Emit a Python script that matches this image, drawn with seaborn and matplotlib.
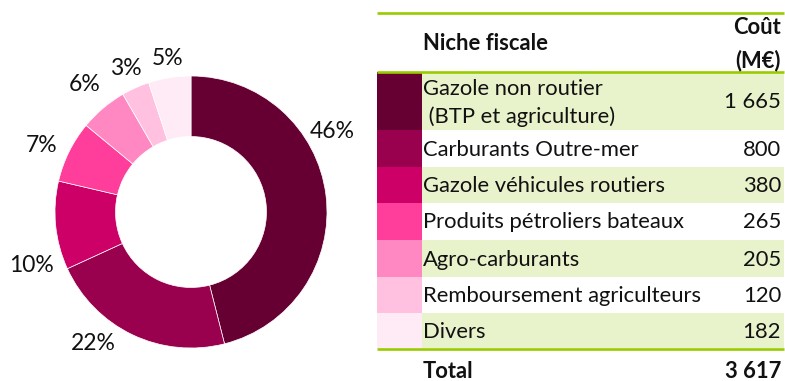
import matplotlib
matplotlib.use("Agg")
import matplotlib.pyplot as plt
from matplotlib.patches import Rectangle
import numpy as np
import seaborn as sns

# Dépenses fiscales sur les carburants (M€)
niches = [
    "Gazole non routier\n (BTP et agriculture)",
    "Carburants Outre-mer",
    "Gazole véhicules routiers",
    "Produits pétroliers bateaux",
    "Agro-carburants",
    "Remboursement agriculteurs",
    "Divers",
]
couts = [1665, 800, 379.6, 265, 205, 120, 182]
header_niche = "Niche fiscale"
header_cout = "Coût\n(M€)"
total_text = "Total"

palette = sns.color_palette(
    ["#660033", "#99004D", "#CC0066", "#FF3D9A", "#FF88C2", "#FFC1DF", "#FFEBF5"]
)

sns.set_theme(style="white")
plt.rcParams["font.family"] = ["Lato", "DejaVu Sans"]

W, H = 785, 381
fig = plt.figure(figsize=(W / 100, H / 100), dpi=100)

# ---- doughnut ----
R_PX = 136.0
cx, cy = 191.0, 212.0
ax = fig.add_axes([0, 0, 2 * cx / W, 2 * (H - cy) / H])
wedges, _ = ax.pie(
    couts,
    colors=palette,
    startangle=90,
    counterclock=False,
    radius=1.0,
    wedgeprops=dict(width=0.445, edgecolor="white", linewidth=0.5),
)
ax.set_aspect("auto")
ax.set_xlim(-cx / R_PX, cx / R_PX)
ax.set_ylim(-(H - cy) / R_PX, (H - cy) / R_PX)
ax.axis("off")

# label placement: nudge (degrees) from each wedge's mid-angle, and radius
label_shift = [22.6, -11.0, 13.0, 2.4, -0.6, 0.35, -0.5]
label_radius = [1.2, 1.2, 1.235, 1.2, 1.22, 1.155, 1.14]
total = sum(couts)
for w, v, dth, r in zip(wedges, couts, label_shift, label_radius):
    mid = np.deg2rad((w.theta1 + w.theta2) / 2 + dth)
    ax.text(r * np.cos(mid), r * np.sin(mid), f"{v / total:.0%}",
            ha="center", va="center", fontsize=16.5, color="#111111")

# ---- table ----
tax = fig.add_axes([0, 0, 1, 1])
tax.set_xlim(0, W)
tax.set_ylim(H, 0)
tax.axis("off")
tax.patch.set_alpha(0)

x0, xs, x1 = 377, 422, 784
row_edges = [72, 130, 167, 203, 240, 277, 313, 348]
green_fill = "#E8F3CC"
green_line = "#99CC00"
fs = 15.8


def fmt(v):
    return f"{round(v):,}".replace(",", " ")


for i, (name, v, col) in enumerate(zip(niches, couts, palette)):
    top, bot = row_edges[i], row_edges[i + 1]
    if i % 2 == 0:
        tax.add_patch(Rectangle((xs, top), x1 - xs, bot - top, color=green_fill, lw=0))
    tax.add_patch(Rectangle((x0, top), xs - x0, bot - top, color=col, lw=0))
    ym = (top + bot) / 2
    tax.text(xs + 1, ym + (2 if "\n" in name else 1), name, ha="left", va="center",
             fontsize=fs, linespacing=1.5, color="#111111")
    tax.text(x1 - 3, ym + 1, fmt(v), ha="right", va="center", fontsize=fs,
             color="#111111")

for y in (12.5, 72, 349):
    tax.plot([x0, x1], [y, y], color=green_line, lw=1.9, solid_capstyle="butt")

tax.text(xs + 1, 44, header_niche, ha="left", va="center", fontsize=fs,
         fontweight="bold", color="#111111")
tax.text(x1 - 3, 44, header_cout, ha="right", va="center", fontsize=fs,
         fontweight="bold", linespacing=1.65, multialignment="right", color="#111111")
tax.text(xs + 1, 371, total_text, ha="left", va="center", fontsize=fs,
         fontweight="bold", color="#111111")
tax.text(x1 - 3, 371, fmt(total), ha="right", va="center", fontsize=fs,
         fontweight="bold", color="#111111")

fig.savefig("out.png", dpi=100)
